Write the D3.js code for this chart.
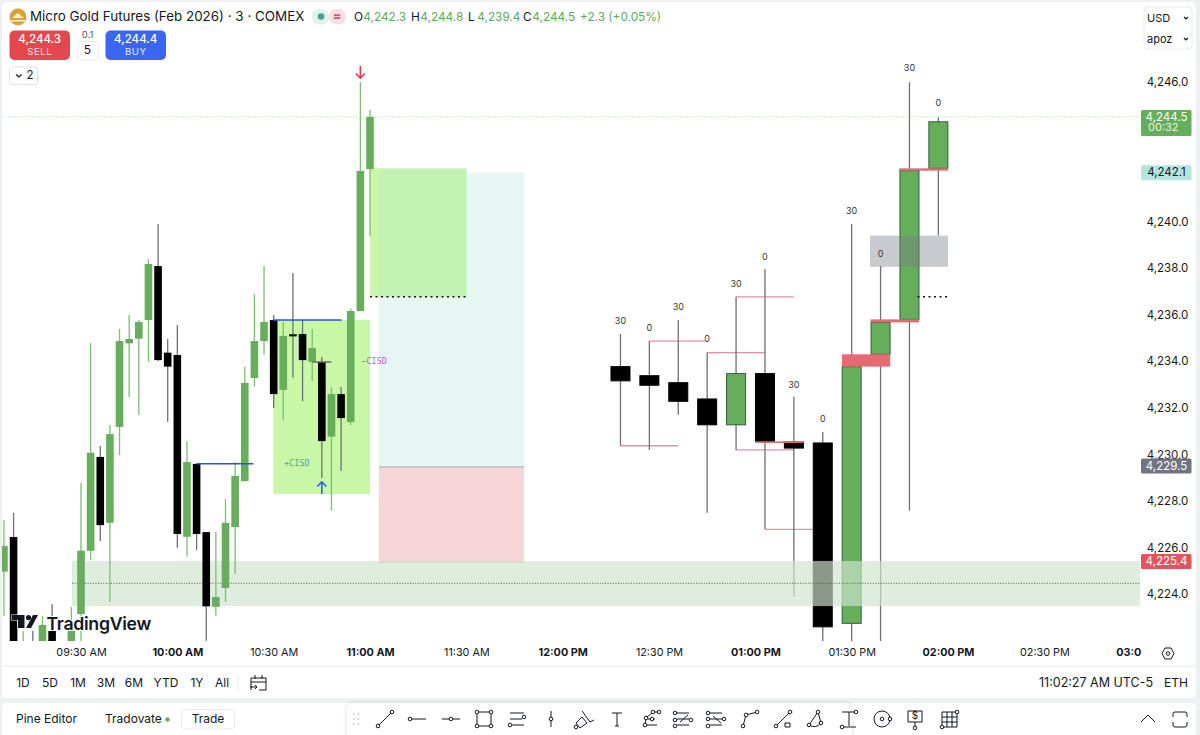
<!DOCTYPE html>
<html>
<head>
<meta charset="utf-8">
<script src="https://cdn.jsdelivr.net/npm/d3@7/dist/d3.min.js"></script>
<style>
  html, body { margin: 0; padding: 0; background: #fff; }
  svg { display: block; }
  text { font-family: Inter, "Noto Sans", sans-serif; }
</style>
</head>
<body>
<svg id="chart" width="1200" height="735"></svg>
<script>
// 3 minute bars, minutes since midnight
var barMinutes = [546,549,552,555,558,561,567,570,573,576,579,582,585,588,591,594,597,600,603,606,609,612,615,618,621,624,627,630,633,636,639,642,645,648,651,654,657,660];
var barOpen  = [4224.96,4226.45,4221.0,4221.6,4221.3,4222.41,4221.5,4223.14,4225.86,4229.89,4227.06,4231.18,4234.77,4234.97,4235.77,4238.09,4234.37,4234.27,4226.46,4229.59,4226.66,4223.45,4224.26,4226.88,4228.85,4233.28,4234.87,4235.77,4232.77,4235.16,4235.17,4233.97,4233.97,4230.76,4232.59,4231.39,4236.16,4242.26];
var barHigh  = [4227.18,4227.48,4222.41,4222.41,4223.05,4223.57,4223.44,4228.77,4234.78,4230.36,4231.26,4235.39,4235.99,4235.77,4238.39,4239.90,4234.96,4235.56,4230.57,4229.6,4226.66,4226.66,4228.08,4229.67,4233.77,4236.89,4238.09,4235.99,4235.70,4237.79,4235.77,4235.39,4234.18,4232.89,4232.89,4236.26,4246.0,4244.8];
var barLow   = [4223.05,4221.0,4220.5,4220.5,4221.0,4221.0,4221.0,4221.5,4225.46,4226.28,4223.67,4229.97,4232.46,4231.69,4233.98,4234.01,4231.40,4225.99,4225.60,4225.89,4221.99,4223.07,4223.66,4224.86,4228.85,4232.91,4234.28,4231.99,4231.48,4233.29,4232.29,4233.15,4228.98,4227.58,4229.28,4231.26,4236.16,4239.38];
var barClose = [4226.06,4221.5,4221.5,4221.0,4222.67,4221.5,4222.41,4225.86,4230.07,4226.96,4230.87,4234.87,4234.96,4235.69,4238.18,4234.05,4233.77,4226.58,4229.67,4226.58,4223.47,4223.87,4227.06,4229.07,4233.07,4234.87,4235.69,4232.59,4235.09,4235.07,4234.05,4234.57,4230.57,4232.59,4231.56,4236.16,4242.18,4244.5];

// 9 minute candles on the right
var htfMinutes = [738,747,756,765,774,783,792,801,810,819,828,837];
var htfOpen  = [4233.77,4233.38,4233.08,4232.38,4231.27,4233.47,4230.53,4230.49,4222.74,4234.30,4235.80,4242.29];
var htfHigh  = [4235.17,4234.87,4235.77,4234.37,4236.77,4237.96,4232.48,4230.96,4239.90,4238.09,4245.99,4244.48];
var htfLow   = [4230.37,4230.19,4231.70,4227.49,4230.19,4226.78,4223.88,4221.9,4221.9,4221.9,4227.58,4239.41];
var htfClose = [4233.16,4232.97,4232.28,4231.27,4233.47,4230.56,4230.27,4222.59,4233.77,4235.67,4242.19,4244.29];
var htfLabels = ["30","0","30","0","30","0","30","0","30","0","30","0"];
var htfLabelPrice = [4235.73,4235.43,4236.37,4234.96,4237.32,4238.52,4233.02,4231.52,4240.46,4238.65,4246.6,4245.1];

var priceTicks = [4246,4240,4238,4236,4234,4232,4230,4228,4226,4224];
var timeTicks = [570,600,630,660,690,720,750,780,810,840,870,900];
var timeLabels = ["09:30 AM","10:00 AM","10:30 AM","11:00 AM","11:30 AM","12:00 PM","12:30 PM","01:00 PM","01:30 PM","02:00 PM","02:30 PM","03:0"];
var boldTimes = [600,660,720,780,840,900];

// levels: from minute, to minute, price
var pinkLevels = [[738,756,4230.37],[747,764.4,4234.87],[765,783,4234.37],[774,792,4236.77],[774,792,4230.19],[783,801,4226.78]];
var blueLevels = [[606,623.7,4229.6],[629.9,651.2,4235.77]];
var redBlocks = [[780,795,4230.56,4230.49],[824.8,840,4242.29,4242.19],[815.9,831,4235.80,4235.67],[807,822,4234.30,4233.77]];
var dottedLevels = [[660,690.1,4236.77],[830.5,840,4236.77]];

var greenZone = [567.2,4225.42,4223.48];
var zoneMid = 4224.46;
var zoneEnd = 1140;

var svg = d3.select("#chart");
var x = d3.scaleLinear().domain([570,840]).range([81,948]);
var y = d3.scaleLinear().domain([4224,4246]).range([594,82]);
var green = "#66ad5c", ink = "#131722", grey = "#6a6d78", faint = "#e9eaec";

// page frame
svg.append("rect").attr("width",1200).attr("height",735).attr("fill","#eff0f2");
svg.append("rect").attr("x",2).attr("y",2).attr("width",1194).attr("height",696).attr("rx",5).attr("fill","#fff");
svg.append("rect").attr("x",2).attr("y",703).attr("width",1194).attr("height",40).attr("rx",5).attr("fill","#fff");

svg.append("defs").append("clipPath").attr("id","pane")
    .append("rect").attr("x",2).attr("y",50).attr("width",1138).attr("height",591);

var pane = svg.append("g").attr("clip-path","url(#pane)");

function box(parent, m0, m1, p0, p1, fill) {
    return parent.append("rect")
        .attr("x",x(m0)).attr("width",x(m1)-x(m0))
        .attr("y",y(p0)).attr("height",y(p1)-y(p0))
        .attr("fill",fill);
}
function level(parent, m0, m1, p, stroke, w, dash) {
    return parent.append("line")
        .attr("x1",x(m0)).attr("x2",x(m1))
        .attr("y1",y(p)).attr("y2",y(p))
        .attr("stroke",stroke).attr("stroke-width",w)
        .attr("stroke-dasharray",dash || null);
}

// position tool boxes, under the candles
box(pane,662.8,708,4242.1,4229.46,"#e6f6f2");
box(pane,662.8,708,4229.46,4225.37,"#f6d6d8");
level(pane,662.8,708,4229.46,"#a9a9a9",1);
level(pane,662.8,708,4225.37,"#f0b8bc",1);
box(pane,660,662.8,4242.29,4236.77,"#c8f7a8");
box(pane,662.8,690.1,4242.29,4236.77,"#c2f3b2");
box(pane,629.9,660,4235.77,4228.3,"#c8f7a8");

// current price line
level(pane,540,900,4244.5,"#9ccb94",1,"1 2");

pinkLevels.forEach(function (d) { level(pane,d[0],d[1],d[2],"#e58fa6",1.3); });

function candles(minutes, open, high, low, close, bodyW, wickW, bordered) {
    var g = pane.append("g");
    var idx = d3.range(minutes.length);
    g.selectAll("line").data(idx).enter().append("line")
        .attr("x1",function (i) { return x(minutes[i]); })
        .attr("x2",function (i) { return x(minutes[i]); })
        .attr("y1",function (i) { return y(high[i]); })
        .attr("y2",function (i) { return y(low[i]); })
        .attr("stroke-width",wickW)
        .attr("stroke",function (i) {
            if (bordered) return "#6f6f6f";
            return close[i] >= open[i] ? "#7fbd74" : "#707070";
        });
    g.selectAll("rect").data(idx).enter().append("rect")
        .attr("x",function (i) { return x(minutes[i])-bodyW/2; })
        .attr("width",bodyW)
        .attr("y",function (i) { return y(Math.max(open[i],close[i])); })
        .attr("height",function (i) { return Math.max(1.5,Math.abs(y(open[i])-y(close[i]))); })
        .attr("fill",function (i) { return close[i] >= open[i] ? green : "#000"; })
        .attr("stroke",function (i) {
            if (!bordered) return "none";
            return close[i] >= open[i] ? "#2f5f3a" : "#000";
        });
}
// right side candles sit under the zone, the 3 minute bars on top of it
candles(htfMinutes,htfOpen,htfHigh,htfLow,htfClose,19,1.3,true);

box(pane,815.7,840,4239.4,4238.06,"rgba(120,123,134,.4)");
redBlocks.forEach(function (d) { box(pane,d[0],d[1],d[2],d[3],"#e56a73"); });
dottedLevels.forEach(function (d) { level(pane,d[0],d[1],d[2],"#111",1.5,"2 3.5"); });
box(pane,greenZone[0],x.invert(zoneEnd),greenZone[1],greenZone[2],"rgba(206,228,206,.67)");
level(pane,greenZone[0],x.invert(zoneEnd),zoneMid,"#4e5d4e",1,"1 1.6");

candles(barMinutes,barOpen,barHigh,barLow,barClose,7.6,1.3,false);

blueLevels.forEach(function (d) { level(pane,d[0],d[1],d[2],"#2f55c8",1.5); });
level(pane,642,648,4233.97,"#6b6b5c",1.5);

// labels over the candles
pane.selectAll("text.htf").data(d3.range(htfMinutes.length)).enter().append("text")
    .attr("class","htf")
    .attr("x",function (i) { return x(htfMinutes[i]); })
    .attr("y",function (i) { return y(htfLabelPrice[i])+1; })
    .attr("text-anchor","middle").attr("dominant-baseline","middle")
    .attr("font-size",9).attr("fill","#333")
    .text(function (i) { return htfLabels[i]; });

function mono(m, p, str, fill) {
    pane.append("text").attr("x",x(m)).attr("y",y(p))
        .attr("dominant-baseline","middle")
        .style("font-family","'DejaVu Sans Mono', monospace")
        .attr("font-size",8.5).attr("fill",fill).text(str);
}
mono(633.2,4229.6,"+CISD","#5a9bb5");
mono(657.3,4234.0,"−CISD","#b95cd0");

// entry arrows
function arrow(cx, cy, dir, stroke) {
    pane.append("path")
        .attr("d","M"+cx+","+(cy-6*dir)+"L"+cx+","+(cy+6*dir)+"M"+(cx-4.5)+","+(cy+1.5*dir)+"L"+cx+","+(cy+6*dir)+"L"+(cx+4.5)+","+(cy+1.5*dir))
        .attr("fill","none").attr("stroke",stroke).attr("stroke-width",1.6);
}
arrow(x(645),488,-1,"#2e62e6");
arrow(x(657),72,1,"#d93a48");

// TradingView mark
var tv = svg.append("g").attr("transform","translate(11,614)");
tv.append("path").attr("d","M0.5,1H13.5V14H7V6H0.5Z M22,1H27L20,14H15Z").attr("fill","#131722")
    .attr("stroke","#fff").attr("stroke-width",1.2).attr("paint-order","stroke");
tv.append("circle").attr("cx",17.5).attr("cy",3.6).attr("r",2.6).attr("fill","#131722");
svg.append("text").attr("x",46.5).attr("y",630).attr("font-size",17.7).attr("font-weight",600)
    .attr("fill","#131722").attr("stroke","#fff").attr("stroke-width",1.5).attr("paint-order","stroke")
    .attr("letter-spacing",-0.3).text("TradingView");

// price axis
var yAxis = svg.append("g").attr("transform","translate(1167.5,0)")
    .call(d3.axisRight(y).tickValues(priceTicks).tickSize(0).tickFormat(d3.format(",.1f")));
yAxis.select(".domain").remove();
yAxis.selectAll("text").attr("x",0).attr("text-anchor","middle")
    .style("font-family","Inter").attr("font-size",11.5).attr("fill",ink);

// time axis
var xAxis = svg.append("g").attr("transform","translate(0,644)")
    .call(d3.axisBottom(x).tickValues(timeTicks).tickSize(0)
        .tickFormat(function (d) { return timeLabels[timeTicks.indexOf(d)]; }));
xAxis.select(".domain").remove();
xAxis.selectAll("text").attr("y",9).attr("dy","0.32em")
    .style("font-family","Inter").attr("font-size",10.8).attr("fill",ink)
    .attr("font-weight",function (d) { return boldTimes.indexOf(d) >= 0 ? 700 : 400; });
xAxis.selectAll("g.tick").filter(function (d) { return d === 900; }).select("text")
    .attr("text-anchor","start").attr("x",-25);

// price labels on the scale
var priceTags = [
    {p:4244.5,t:"4,244.5",fill:green,color:"#fff",h:26,sub:"00:32"},
    {p:4242.1,t:"4,242.1",fill:"#b2e5dc",color:ink,h:15},
    {p:4229.5,t:"4,229.5",fill:"#72757f",color:"#fff",h:15},
    {p:4225.4,t:"4,225.4",fill:"#e5535e",color:"#fff",h:15}
];
priceTags.forEach(function (d) {
    var top = d.sub ? y(d.p)-7 : y(d.p)-7.5;
    svg.append("rect").attr("x",1141).attr("y",top).attr("width",50.5).attr("height",d.h).attr("rx",1.5).attr("fill",d.fill);
    svg.append("text").attr("x",1166.5).attr("y",y(d.p)+0.5).attr("text-anchor","middle")
        .attr("dominant-baseline","middle").attr("font-size",11.5).attr("fill",d.color).text(d.t);
    if (d.sub) svg.append("text").attr("x",1148).attr("y",top+18.5).attr("dominant-baseline","middle")
        .attr("font-size",11).attr("fill","#e6f3e3").text(d.sub);
});

function label(xp, yp, str, size, fill, anchor, weight) {
    return svg.append("text").attr("x",xp).attr("y",yp)
        .attr("dominant-baseline","middle")
        .attr("text-anchor",anchor || "start")
        .attr("font-size",size).attr("fill",fill)
        .attr("font-weight",weight || 400).text(str);
}

// header
svg.append("circle").attr("cx",18).attr("cy",17).attr("r",8.5).attr("fill","#d8a23c");
svg.append("path").attr("d","M12,18L18,13L24,18Z M11,20H25V21.5H11Z").attr("fill","#fbeecb");
label(30,17.5,"Micro Gold Futures (Feb 2026) · 3 · COMEX",13.4,ink);

svg.append("rect").attr("x",312).attr("y",9).attr("width",17).attr("height",15.5).attr("rx",7).attr("fill","#e0f1ee");
svg.append("rect").attr("x",329).attr("y",9).attr("width",17).attr("height",15.5).attr("rx",7).attr("fill","#fae0e6");
svg.append("circle").attr("cx",321).attr("cy",16.5).attr("r",3.3).attr("fill","#4f9e8d");
label(337,16.5,"≈",12,"#d8446a","middle",700);

var ohlcPrefix = ["O","H","L","C"];
var ohlcValues = ["4,242.3","4,244.8","4,239.4","4,244.5"];
var ohlcX = [354,411,468,523];
ohlcPrefix.forEach(function (s, i) {
    label(ohlcX[i],17.5,s,11.8,ink);
    label(ohlcX[i]+9.3,17.5,ohlcValues[i],11.8,"#5fa85b");
});
label(580,17.5,"+2.3 (+0.05%)",11.8,"#5fa85b");

// order buttons
svg.append("rect").attr("x",9.5).attr("y",30.5).attr("width",60.5).attr("height",29.5).attr("rx",5).attr("fill","#e5474f");
label(39.7,40,"4,244.3",11.5,"#fff","middle",500);
label(39.7,52,"SELL",9.5,"#fde4e5","middle").attr("letter-spacing",0.6);
svg.append("rect").attr("x",105.5).attr("y",30.5).attr("width",60.5).attr("height",29.5).attr("rx",5).attr("fill","#3a66f0");
label(135.7,40,"4,244.4",11.5,"#fff","middle",500);
label(135.7,52,"BUY",9.5,"#e2e8fd","middle").attr("letter-spacing",0.6);
label(87.5,35.5,"0.1",9.5,"#555","middle");
svg.append("rect").attr("x",78).attr("y",41.5).attr("width",20).attr("height",18.5).attr("rx",3).attr("fill","#fff").attr("stroke",faint);
label(87.5,51,"5",12,ink,"middle");

svg.append("rect").attr("x",9.5).attr("y",67).attr("width",28).attr("height",17.5).attr("rx",2.5).attr("fill","#fff").attr("stroke","#e0e1e4");
svg.append("path").attr("d","M16,74.5L18.8,77L21.6,74.5").attr("fill","none").attr("stroke",ink).attr("stroke-width",1.2);
label(30,76,"2",11.5,ink,"middle");

// currency box
svg.append("rect").attr("x",1144).attr("y",7).attr("width",48).attr("height",42).attr("rx",4).attr("fill","#fff").attr("stroke",faint);
label(1147,18.5,"USD",11,ink);
label(1147,39.5,"apoz",11,ink);
[18,39].forEach(function (yy) {
    svg.append("path").attr("d","M1184,"+(yy-1)+"L1186,"+(yy+1)+"L1188,"+(yy-1)).attr("fill","none").attr("stroke",ink).attr("stroke-width",1.2);
});

// gear
svg.append("path").attr("d","M1162,653.5L1165,648L1171,648L1174,653.5L1171,659L1165,659Z").attr("fill","none").attr("stroke",ink).attr("stroke-width",1);
svg.append("circle").attr("cx",1168).attr("cy",653.5).attr("r",1.8).attr("fill","none").attr("stroke",ink);

// range row
svg.append("line").attr("x1",2).attr("x2",1196).attr("y1",666).attr("y2",666).attr("stroke",faint);
var ranges = ["1D","5D","1M","3M","6M","YTD","1Y","All"];
var rangeX = [23,50,78,106,134,166,197,222];
ranges.forEach(function (s, i) { label(rangeX[i],683.5,s,12,ink,"middle"); });
svg.append("line").attr("x1",238).attr("x2",238).attr("y1",675).attr("y2",692).attr("stroke",faint);
svg.append("path").attr("d","M251,690V678H266V690H259M251,682H266M255,675V679M262,675V679M250,687H257M255,685L257,687L255,689")
    .attr("fill","none").attr("stroke",ink).attr("stroke-width",1);
label(1153,683.5,"11:02:27 AM UTC-5",12.5,ink,"end");
label(1188,683.5,"ETH",12,ink,"end");

// footer
label(16,719.5,"Pine Editor",12,ink);
label(105,719.5,"Tradovate",12,ink);
svg.append("circle").attr("cx",167.5).attr("cy",719.5).attr("r",2.3).attr("fill",green);
svg.append("rect").attr("x",181.5).attr("y",709.5).attr("width",53).attr("height",19.5).attr("rx",4).attr("fill","#fff").attr("stroke",faint);
label(208,719.5,"Trade",12,ink,"middle");
svg.append("path").attr("d","M1141,722L1148,715L1155,722").attr("fill","none").attr("stroke",ink).attr("stroke-width",1);
svg.append("path").attr("d","M1173,717V714Q1173,712 1175,712H1185Q1187,712 1187,714V717M1173,722V725Q1173,727 1175,727H1185Q1187,727 1187,725V722")
    .attr("fill","none").attr("stroke",ink).attr("stroke-width",1);

// drawing toolbar
svg.append("rect").attr("x",347).attr("y",703).attr("width",505).attr("height",40).attr("rx",6).attr("fill","#fff")
    .style("filter","drop-shadow(0 0 2px rgba(0,0,0,.15))");
svg.selectAll("circle.grip").data(d3.range(6)).enter().append("circle")
    .attr("cx",function (i) { return 354+(i%2)*4.5; })
    .attr("cy",function (i) { return 714+Math.floor(i/2)*5; })
    .attr("r",0.9).attr("fill","#c4c6cc");

var iconX = [385,418,451,484,517,551,584,617,651,683,716,750,783,816,849,882,915,949];
var iconPaths = [
    "M-7,7L7,-7",
    "M-6,0H8",
    "M-9,0H-2M2,0H9",
    "M-5,-7H5M-5,7H5M-7,-5V5M7,-5V5",
    "M-7,-6H7M-7,0H5M-5,6H7",
    "M0,-8V-2M0,2V8",
    "M-2,-8L6,3L10,1M-8,4L-2,-2L3,4L-4,9Z",
    "M-5,-6H5M0,-6V7M-2,7H2",
    "M-6,6L-5,-1L2,-7H8M-3,0H4M-4,6H6",
    "M-6,-6H6M-6,0H6M-6,6H6M-3,3L5,-4",
    "M-6,-6H6M-6,0H6M-6,6H6M-3,-3L5,4",
    "M-7,7L-4,-4L7,-7",
    "M-7,7L7,-7M2,4H7V8H2Z",
    "M-7,6L2,-7L5,4Q0,10 -7,6Z",
    "M-7,-7H7M0,-7V7M-7,8H7",
    "M-8,0A8,8 0 1,1 8,0A8,8 0 1,1 -8,0",
    "M-7,-8H7V3H-7ZM0,3V9",
    "M-7,-7H8V8H-7ZM-2,-7V8M3,-7V8M-7,-2H8M-7,3H8"
];
var iconDots = [
    [[-7,7],[7,-7]],[[-8,0]],[[0,0]],[[-7,-7],[7,-7],[-7,7],[7,7]],[[7,-2],[-7,6]],[[0,0]],[[-8,8]],[],
    [[-6,6],[-5,-1],[2,-7],[8,-7],[1,0]],[[-8,-6],[-8,1],[8,1],[-8,7]],[[-8,-6],[8,0],[-8,0],[-8,7]],
    [[-7,7],[-4,-4],[7,-7]],[[-7,7],[7,-7]],[[-7,6],[2,-7],[5,4]],[[7,-7],[-7,8]],[[0,0],[8,0]],[[0,9]],[[-7,8],[8,-7]]
];
iconX.forEach(function (cx, i) {
    var g = svg.append("g").attr("transform","translate("+cx+",719)");
    g.append("path").attr("d",iconPaths[i]).attr("fill","none").attr("stroke",ink).attr("stroke-width",1);
    iconDots[i].forEach(function (p) {
        g.append("circle").attr("cx",p[0]).attr("cy",p[1]).attr("r",1.8).attr("fill","#fff").attr("stroke",ink);
    });
});
svg.append("text").attr("x",915).attr("y",716).attr("text-anchor","middle").attr("dominant-baseline","middle")
    .attr("font-size",10).attr("fill",ink).text("$");
</script>
</body>
</html>
